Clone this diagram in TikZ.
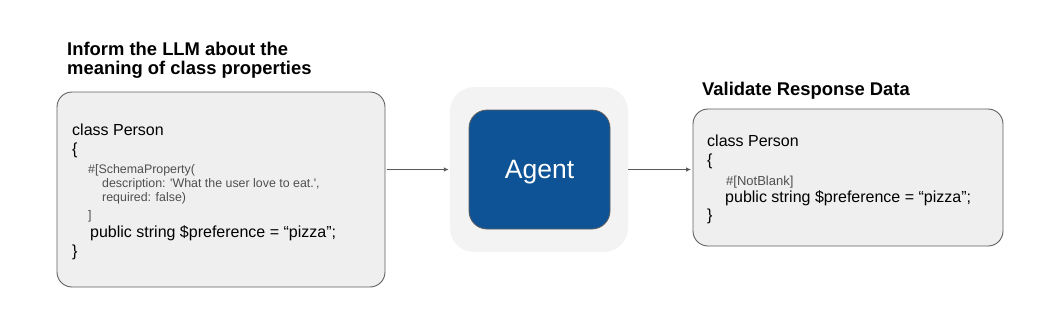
\documentclass[tikz,border=0pt]{standalone}
\usepackage{fontspec}
\setmainfont{Liberation Sans}
\usetikzlibrary{arrows.meta}
\definecolor{boxfill}{HTML}{EFEFEF}
\definecolor{boxline}{HTML}{5F5F5F}
\definecolor{outerfill}{HTML}{F3F3F3}
\definecolor{agentblue}{HTML}{0E5395}
\definecolor{smallgrey}{HTML}{4F4F4F}
\definecolor{arrowgrey}{HTML}{595959}
\begin{document}
\begin{tikzpicture}[x=1pt,y=-1pt,
  codebox/.style={draw=boxline, fill=boxfill, line width=0.9pt, rounded corners=15pt, inner sep=0pt},
  outerbox/.style={fill=outerfill, draw=none, rounded corners=24pt, inner sep=0pt},
  agentbox/.style={fill=agentblue, draw=boxline, line width=0.8pt, rounded corners=18pt, inner sep=0pt, text depth=0pt, text=white, font=\fontsize{26.5}{30}\selectfont},
  big/.style={anchor=base west, inner sep=0pt, font=\fontsize{16}{19}\selectfont, text=black},
  small/.style={anchor=base west, inner sep=0pt, font=\fontsize{12.4}{14}\selectfont, text=smallgrey},
  smallr/.style={small, font=\fontsize{13}{15}\selectfont},
  heading/.style={anchor=base west, inner sep=0pt, font=\fontsize{18.4}{22}\selectfont\bfseries, text=black},
  arr/.style={draw=arrowgrey, line width=0.9pt, -{Latex[length=5pt,width=4.5pt]}}]
\useasboundingbox (0,0) rectangle (1060,327);

% boxes
\node[codebox, minimum width=328pt, minimum height=195pt] (left) at (221,189.5) {};
\node[outerbox, minimum width=178pt, minimum height=165pt] (outer) at (539,169.5) {};
\node[agentbox, minimum width=141pt, minimum height=119pt] (agent) at (539.5,169.5) {Agent};
\node[codebox, minimum width=310pt, minimum height=137pt] (right) at (848,177.5) {};

% headings
\node[heading] (h1a) at (67,55) {Inform the LLM about the};
\node[heading] (h1b) at (67,74) {meaning of class properties};
\node[heading] (h2) at (702,95) {Validate Response Data};

% left code
\node[big] (l1) at (72,135) {class Person};
\node[big] (l2) at (72,154) {\{};
\node[small] (l3) at (88,173) {\#[SchemaProperty(};
\node[small] (l4) at (102,187.5) {description: \textquotesingle What the user love to eat.\textquotesingle ,};
\node[small] (l5) at (102,201.5) {required: false)};
\node[small] (l6) at (88,219.5) {]};
\node[big] (l7) at (90,237) {public string \$preference = “pizza”;};
\node[big] (l8) at (72,256) {\}};

% right code
\node[big] (r1) at (707,146) {class Person};
\node[big] (r2) at (707,165) {\{};
\node[smallr] (r3) at (726,185) {\#[NotBlank]};
\node[big] (r4) at (725,202) {public string \$preference = “pizza”;};
\node[big] (r5) at (707,220) {\}};

% connectors
\draw[arr, shorten <=1.5pt, shorten >=1pt] (left.east |- outer.west) -- (outer.west);
\draw[arr, shorten >=1.5pt] (outer.east) -- (right.west |- outer.east);
\end{tikzpicture}
\end{document}
